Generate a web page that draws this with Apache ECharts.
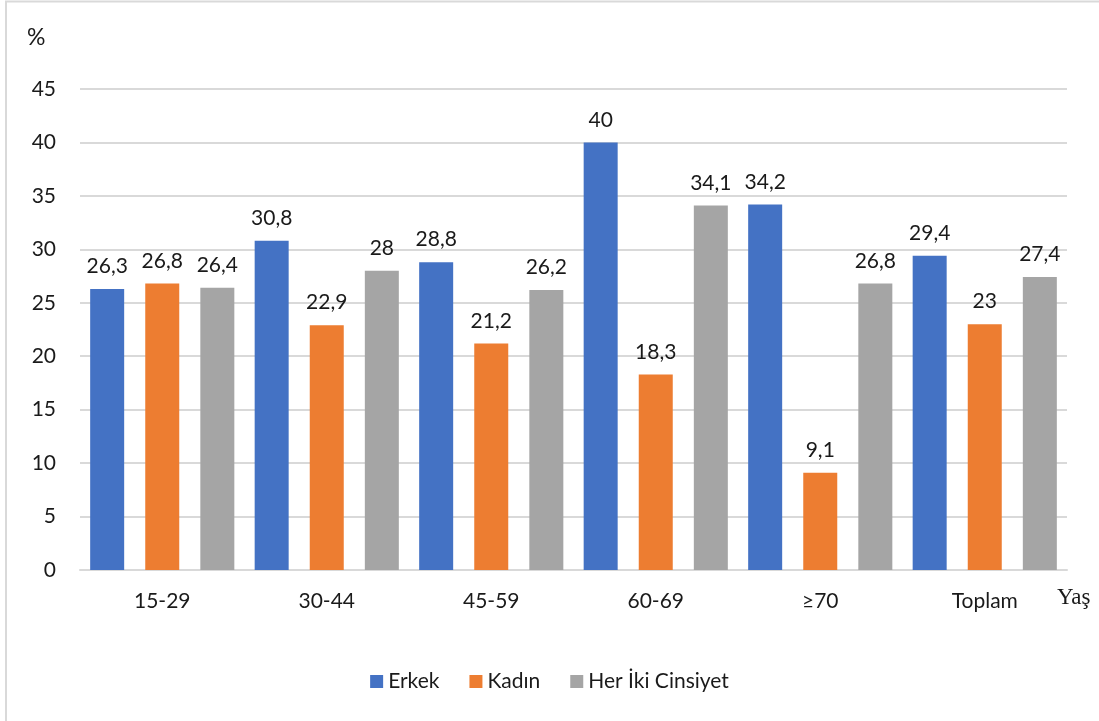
<!DOCTYPE html>
<html>
<head>
<meta charset="utf-8">
<style>
  html, body { margin: 0; padding: 0; background: #ffffff; }
  #chart { width: 1099px; height: 721px; }
</style>
<script src="https://cdn.jsdelivr.net/npm/echarts@6/dist/echarts.min.js"></script>
</head>
<body>
<div id="chart"></div>
<script>
// Age groups on the x axis
const categories = ['15-29', '30-44', '45-59', '60-69', '≥70', 'Toplam'];
// Percentages per group
const erkek = [26.3, 30.8, 28.8, 40, 34.2, 29.4];
const kadin = [26.8, 22.9, 21.2, 18.3, 9.1, 23];
const herIki = [26.4, 28, 26.2, 34.1, 26.8, 27.4];
const seriesNames = ['Erkek', 'Kadın', 'Her İki Cinsiyet'];
const colors = ['#4472c4', '#ed7d31', '#a5a5a5'];

const font = 'Lato, "Open Sans", sans-serif';
const fmt = v => String(v).replace('.', ',');

function bar(name, data, color) {
  return {
    name: name,
    type: 'bar',
    data: data,
    barWidth: 34,
    barGap: '62%',
    itemStyle: { color: color },
    label: {
      show: true,
      position: 'top',
      distance: 12,
      color: '#1a1a1a',
      fontFamily: font,
      fontSize: 21,
      formatter: p => fmt(p.value)
    }
  };
}

const chart = echarts.init(document.getElementById('chart'), null, { renderer: 'canvas' });
chart.setOption({
  animation: false,
  backgroundColor: '#ffffff',
  color: colors,
  grid: { left: 80, right: 32, top: 89, bottom: 151 },
  legend: {
    bottom: 24,
    left: 'center',
    itemWidth: 13,
    itemHeight: 13,
    itemGap: 30,
    icon: 'rect',
    textStyle: { fontFamily: font, fontSize: 21, color: '#1a1a1a' },
    data: seriesNames
  },
  xAxis: {
    type: 'category',
    data: categories,
    axisTick: { show: false },
    axisLine: { lineStyle: { color: '#d9d9d9', width: 2 } },
    axisLabel: { fontFamily: font, fontSize: 21, color: '#1a1a1a', margin: 21 },
    name: 'Yaş',
    nameLocation: 'end',
    nameGap: 8,
    nameTextStyle: {
      fontFamily: '"Liberation Serif", "DejaVu Serif", serif',
      fontSize: 23,
      color: '#1a1a1a',
      verticalAlign: 'top',
      padding: [16, 0, 0, -18]
    }
  },
  yAxis: {
    type: 'value',
    min: 0,
    max: 45,
    interval: 5,
    axisLine: { show: false },
    axisTick: { show: false },
    splitLine: { lineStyle: { color: '#d9d9d9', width: 2 } },
    axisLabel: { fontFamily: font, fontSize: 21, color: '#1a1a1a', margin: 24 },
    name: '%',
    nameLocation: 'end',
    nameGap: 40,
    nameTextStyle: {
      fontFamily: font,
      fontSize: 23,
      color: '#1a1a1a',
      align: 'left',
      padding: [0, 0, 0, -53]
    }
  },
  graphic: [{
    type: 'rect',
    silent: true,
    shape: { x: 6, y: 1.5, width: 1200, height: 900 },
    style: { fill: 'none', stroke: '#d9d9d9', lineWidth: 2 }
  }],
  series: [
    bar(seriesNames[0], erkek, colors[0]),
    bar(seriesNames[1], kadin, colors[1]),
    bar(seriesNames[2], herIki, colors[2])
  ]
});
</script>
</body>
</html>
